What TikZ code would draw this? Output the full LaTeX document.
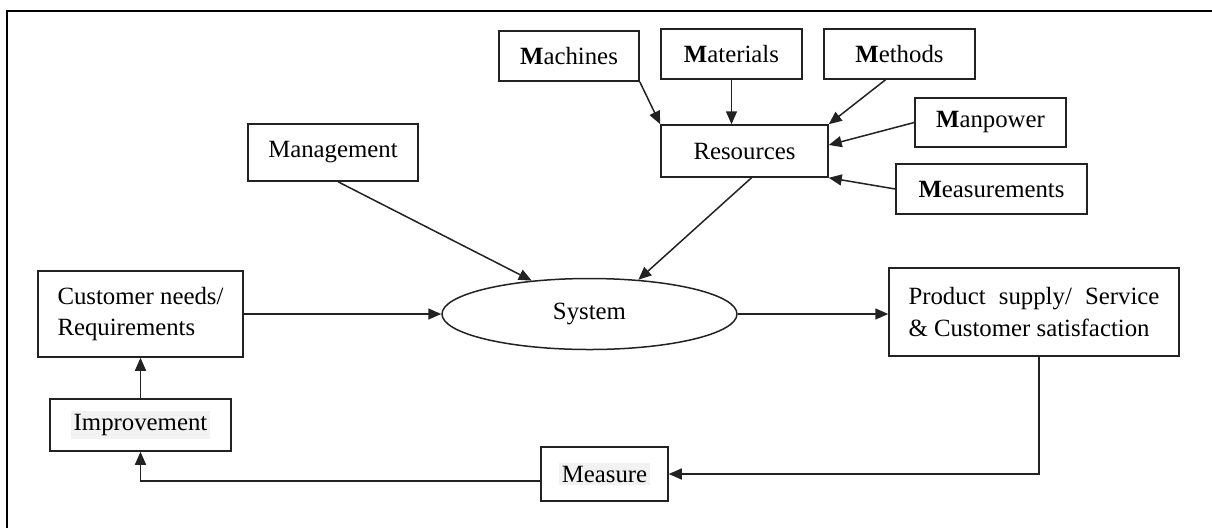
\documentclass[tikz,border=0pt]{standalone}
\usepackage{fontspec}
\setmainfont{Liberation Serif}
\usetikzlibrary{shapes.geometric,arrows.meta,calc}
\definecolor{hl}{HTML}{F2F2F2}
\definecolor{ln}{HTML}{222222}
\newcommand{\hlbox}[1]{{\setlength{\fboxsep}{1.5pt}\colorbox{hl}{#1}}}
\begin{document}
\begin{tikzpicture}[x=0.5pt,y=-0.5pt,
  every node/.style={font=\fontsize{12.4}{15.5}\selectfont},
  box/.style={draw=ln,line width=0.75pt,inner sep=0pt,align=left},
  arr/.style={draw=ln,line width=0.75pt,-{Triangle[length=6.5pt,width=5.5pt]}},
  frameline/.style={draw=black,line width=1.1pt}]
\useasboundingbox (0,0) rectangle (1212,527);
\draw[frameline] (7,534) -- (7,11) -- (1220,11);
% nodes
\node[box,minimum width=70pt,minimum height=25pt] (machines) at (569,56) {\textbf{M}achines};
\node[box,minimum width=70.5pt,minimum height=25pt] (materials) at (731.5,54) {\textbf{M}aterials};
\node[box,minimum width=75.5pt,minimum height=25pt] (methods) at (899.5,54) {\textbf{M}ethods};
\node[box,minimum width=75.5pt,minimum height=24.5pt] (manpower) at (990.5,122.5) {\textbf{M}anpower};
\node[box,minimum width=95.5pt,minimum height=25pt] (measurements) at (991.5,189) {\textbf{M}easurements};
\node[box,minimum width=83.5pt,minimum height=26pt] (resources) at (744.5,151) {Resources};
\node[box,minimum width=85pt,minimum height=28.5pt] (management) at (333,152.5) {Management};
\node[draw=ln,line width=0.75pt,ellipse,inner sep=0pt,minimum width=147.5pt,minimum height=35.5pt] (system) at (589.5,314) {System};
\node[box,minimum width=102.5pt,minimum height=43pt] (customer) at (140.5,314) {Customer needs/\\Requirements};
\node[box,minimum width=90.5pt,minimum height=26pt] (improvement) at (140.5,425) {\hlbox{Improvement}};
\node[box,minimum width=63.5pt,minimum height=27pt] (measure) at (604.5,474) {\hlbox{Measure}};
\node[box,minimum width=145pt,minimum height=44pt,font=\fontsize{12.4}{16}\selectfont] (product) at (1034,312) {\makebox[125.5pt][s]{Product supply/ Service}\\\& Customer satisfaction};
% connectors
\draw[arr] (machines.south east) -- (resources.north west);
\draw[arr] (materials.south) -- (materials.south |- resources.north);
\draw[arr] ([xshift=-7pt]methods.south) -- (resources.north east);
\draw[arr] (manpower.west) -- ([yshift=3pt]resources.east);
\draw[arr] (measurements.west) -- (resources.south east);
\draw[arr] ([xshift=3.5pt]resources.south) -- (system.35);
\draw[arr] ([xshift=2.5pt]management.south) -- (system.150);
\draw[arr] (customer.east) -- (system.west);
\draw[arr] (system.east) -- (system.east -| product.west);
\draw[arr] (improvement.north) -- (customer.south);
\draw[arr] ([xshift=2.5pt]product.south) |- (measure.east);
\draw[arr] ([yshift=-3.5pt]measure.west) -| (improvement.south);
\end{tikzpicture}
\end{document}
